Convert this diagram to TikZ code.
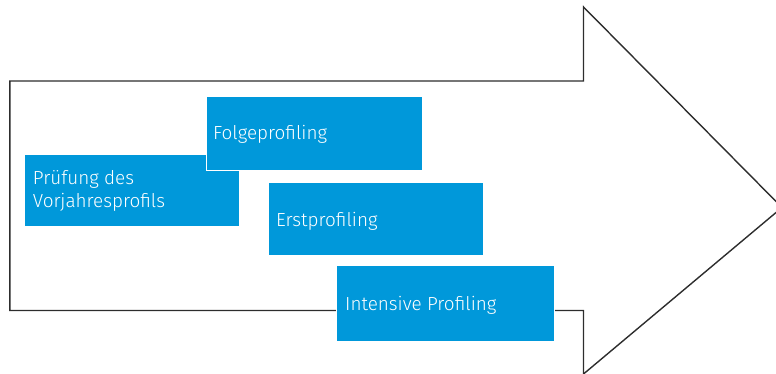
\documentclass[tikz,border=0pt]{standalone}
\usepackage{fontspec}
\setmainfont{Fira Sans}[UprightFont={* Light}]
\definecolor{boxblue}{RGB}{0,152,218}
\definecolor{arrowline}{RGB}{45,45,45}
\begin{document}
\begin{tikzpicture}[x=1pt,y=-1pt,
  box/.style={rectangle, fill=boxblue, draw=white, line width=0.9pt, anchor=north west, inner sep=0pt},
  lbl/.style={anchor=base west, inner sep=0pt, text=white, font=\fontsize{18.9}{22.3}\selectfont},
  outline/.style={draw=arrowline, line width=1.4pt, line join=miter}]
\useasboundingbox (0,0) rectangle (776,374);
\clip (0,0) rectangle (776,374);
\coordinate (a1) at (9.8,81);
\coordinate (a2) at (583.5,81);
\coordinate (a3) at (583.5,7);
\coordinate (tip) at (782,207.5);
\coordinate (a5) at (583.5,374);
\coordinate (a6) at (583.5,310.5);
\coordinate (a7) at (9.8,310.5);
\draw[outline] (a1) -- (a2) -- (a3) -- (tip) -- (a5) -- (a6) -- (a7) -- cycle;
\node[box, minimum width=215pt, minimum height=72pt] (pruef) at (24,154) {};
\node[lbl] (pruefa) at (32.7,185) {Prüfung des};
\node[lbl] (pruefb) at (32.7,207.3) {Vorjahresprofils};
\node[box, minimum width=216pt, minimum height=74pt] (folge) at (205.7,95.7) {};
\node[lbl] (folget) at (213,140) {Folgeprofiling};
\node[box, minimum width=214.5pt, minimum height=72.5pt] (erst) at (268.3,182.3) {};
\node[lbl] (erstt) at (276,226.3) {Erstprofiling};
\node[box, minimum width=218pt, minimum height=75.7pt] (intens) at (336,265) {};
\node[lbl] (intenst) at (345,310.7) {Intensive Profiling};
\end{tikzpicture}
\end{document}
